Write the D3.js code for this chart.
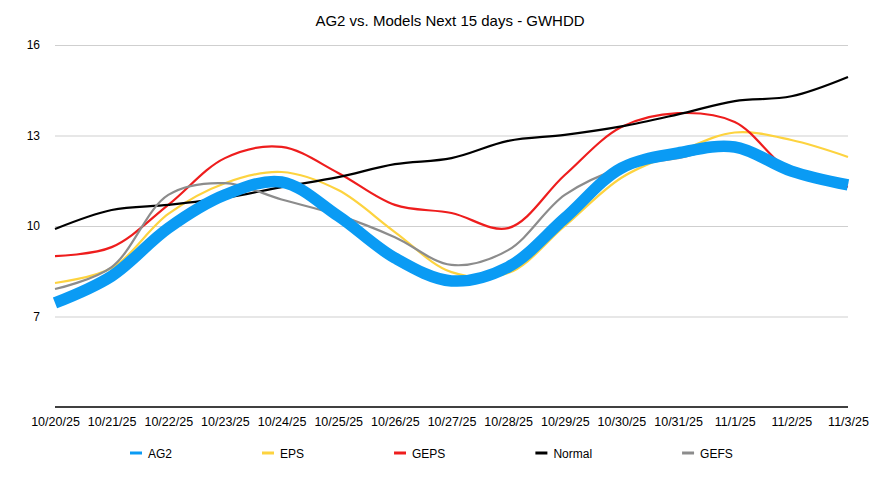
<!DOCTYPE html>
<html>
<head>
<meta charset="utf-8">
<script src="https://cdn.jsdelivr.net/npm/d3@7"></script>
<style>
  body { margin: 0; background: #fff; }
  text { font-family: "Liberation Sans", Arial, sans-serif; fill: #000; }
</style>
</head>
<body>
<div id="chart"></div>
<script>
var dates = ['10/20/25', '10/21/25', '10/22/25', '10/23/25', '10/24/25', '10/25/25', '10/26/25',
  '10/27/25', '10/28/25', '10/29/25', '10/30/25', '10/31/25', '11/1/25', '11/2/25', '11/3/25']
var ag2 = [7.45, 8.34, 9.93, 11.03, 11.46, 10.33, 8.94, 8.18, 8.64, 10.26, 11.92, 12.42, 12.62, 11.82, 11.36]
var eps = [8.11, 8.61, 10.4, 11.42, 11.79, 11.19, 9.8, 8.47, 8.44, 10.0, 11.6, 12.45, 13.1, 12.85, 12.29]
var geps = [9.0, 9.3, 10.7, 12.25, 12.62, 11.76, 10.7, 10.43, 9.93, 11.69, 13.28, 13.74, 13.45, 11.8, 11.3]
var normal = [9.9, 10.53, 10.7, 10.93, 11.29, 11.62, 12.05, 12.25, 12.82, 13.02, 13.3, 13.7, 14.14, 14.3, 14.94]
var gefs = [7.91, 8.64, 11.03, 11.42, 10.88, 10.36, 9.63, 8.71, 9.2, 11.03, 11.92, 12.25, 12.6, 11.95, 11.4]
var yTicks = [7, 10, 13, 16]

var series = [
  {name: 'AG2', values: ag2, color: '#0a9bf4', width: 11.5},
  {name: 'EPS', values: eps, color: '#fdd33f', width: 2.2},
  {name: 'GEPS', values: geps, color: '#ee1d1d', width: 2.2},
  {name: 'Normal', values: normal, color: '#000000', width: 2.2},
  {name: 'GEFS', values: gefs, color: '#8c8c8c', width: 2.2}
]

var width = 877, height = 498
var svg = d3.select('#chart').append('svg')
  .attr('width', width)
  .attr('height', height)

var x = d3.scalePoint()
  .domain(dates)
  .range([55, 848])

var y = d3.scaleLinear()
  .domain([4, 16])
  .range([407, 45])

svg.append('text')
  .attr('x', 450)
  .attr('y', 26)
  .attr('text-anchor', 'middle')
  .style('font-size', '15px')
  .text('AG2 vs. Models Next 15 days - GWHDD')

// grid + y labels
var yAxis = d3.axisLeft(y)
  .tickValues(yTicks)
  .tickSize(-(848 - 55))
  .tickPadding(12)
svg.append('g')
  .attr('transform', 'translate(55,0)')
  .call(yAxis)
  .call(function(g) {
    g.select('.domain').remove()
    g.selectAll('line').attr('stroke', '#cfcfcf').attr('stroke-width', 1)
    g.selectAll('text').style('font-size', '12px').attr('x', -15)
  })

// bottom axis
var xAxis = d3.axisBottom(x).tickSize(0).tickPadding(10)
svg.append('g')
  .attr('transform', 'translate(0,407)')
  .call(xAxis)
  .call(function(g) {
    g.select('.domain').attr('stroke', '#000').attr('stroke-width', 1.5)
      .attr('d', 'M55,0H848')
    g.selectAll('text').style('font-size', '12.5px')
  })

var line = d3.line()
  .x(function(d, i) { return x(dates[i]) })
  .y(function(d) { return y(d) })
  .curve(d3.curveCatmullRom.alpha(0.5))

// thin lines first, AG2 on top
series.slice(1).concat([series[0]]).forEach(function(s) {
  svg.append('path')
    .datum(s.values)
    .attr('fill', 'none')
    .attr('stroke', s.color)
    .attr('stroke-width', s.width)
    .attr('stroke-linejoin', 'round')
    .attr('d', line)
})

// legend
var legend = svg.append('g').attr('transform', 'translate(0,453)')
var lx = 130
series.forEach(function(s) {
  var item = legend.append('g').attr('transform', 'translate(' + lx + ',0)')
  item.append('line')
    .attr('x1', 0).attr('x2', 12)
    .attr('stroke', s.color)
    .attr('stroke-width', 3)
  var t = item.append('text')
    .attr('x', 18)
    .attr('y', 4.5)
    .style('font-size', '12px')
    .text(s.name)
  lx += t.node().getComputedTextLength() + 108
})
</script>
</body>
</html>
